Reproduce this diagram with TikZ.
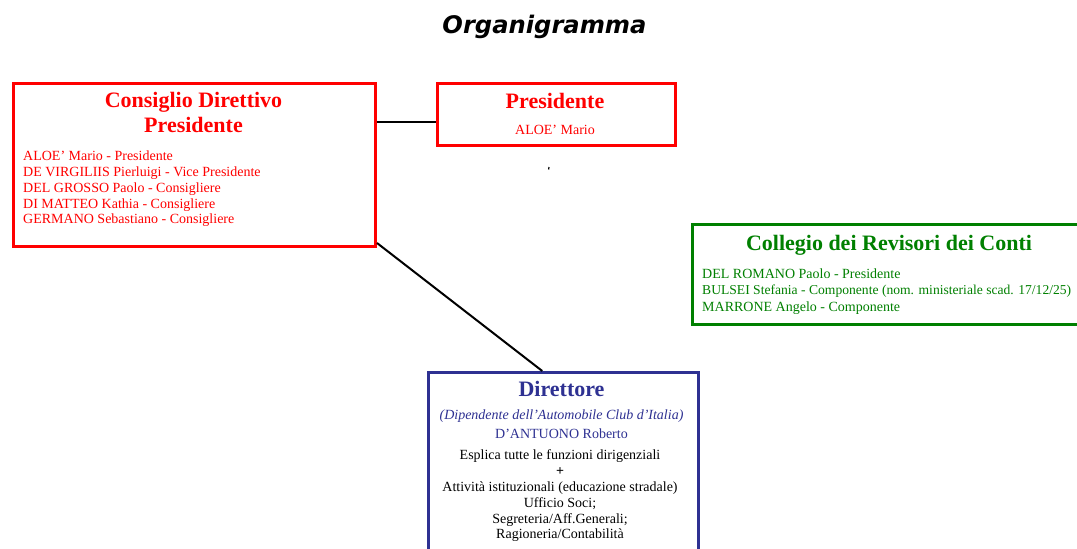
\documentclass[tikz,border=0pt]{standalone}
\usepackage{fontspec}
\setmainfont{Liberation Serif}
\newfontfamily\titlefont{DejaVu Sans}
\definecolor{boxred}{RGB}{255,0,0}
\definecolor{boxgreen}{RGB}{0,128,0}
\definecolor{boxblue}{RGB}{46,49,146}
\begin{document}
\begin{tikzpicture}[x=1pt,y=-1pt,
  box/.style={draw, line width=3pt, inner sep=0pt, anchor=north west},
  head/.style={font=\fontsize{22}{24}\selectfont\bfseries, anchor=base, inner sep=0pt},
  member/.style={font=\fontsize{14}{16}\selectfont, anchor=base west, inner sep=0pt},
  ctext/.style={font=\fontsize{14}{16}\selectfont, anchor=base, inner sep=0pt},
  cline/.style={draw=black, line width=2pt},
]
\clip (0,0) rectangle (1077,549);
\fill[white] (0,0) rectangle (1077,549);

% title
\node[font=\titlefont\fontsize{24.2}{28}\selectfont\bfseries\itshape, anchor=base, inner sep=0pt] (title) at (544.5,33.5) {Organigramma};

% boxes
\node[box, draw=boxred, minimum width=362pt, minimum height=163pt] (cons) at (12,82) {};
\node[box, draw=boxred, minimum width=238pt, minimum height=62pt] (pres) at (436,82) {};
\node[box, draw=boxgreen, minimum width=396pt, minimum height=100pt] (coll) at (691,223) {};
\node[box, draw=boxblue, line width=2.5pt, minimum width=270pt, minimum height=200pt] (dir) at (427,371) {};

% connectors
\draw[cline] (cons.east |- 0,122) -- (pres.west |- 0,122);
\draw[cline] ([yshift=5pt]cons.south east) -- ([xshift=-21pt]dir.north);
\draw[line width=1.2pt] (549,167) -- (548.6,169.5);

% Consiglio Direttivo
\node[head, text=boxred] (consh1) at (193.5,107.3) {Consiglio Direttivo};
\node[head, text=boxred] (consh2) at (193.5,132.7) {Presidente};
\node[member, text=boxred] (c1) at (23,160.7) {ALOE’ Mario - Presidente};
\node[member, text=boxred] (c2) at (23,176.5) {DE VIRGILIIS Pierluigi - Vice Presidente};
\node[member, text=boxred] (c3) at (23,192.3) {DEL GROSSO Paolo - Consigliere};
\node[member, text=boxred] (c4) at (23,208.1) {DI MATTEO Kathia - Consigliere};
\node[member, text=boxred] (c5) at (23,223.9) {GERMANO Sebastiano - Consigliere};

% Presidente
\node[head, text=boxred] (presh) at (555,108.3) {Presidente};
\node[ctext, text=boxred] (pres1) at (555,134.3) {ALOE’ Mario};

% Collegio
\node[head, text=boxgreen] (collh) at (889,250) {Collegio dei Revisori dei Conti};
\node[member, text=boxgreen] (g1) at (702,278.3) {DEL ROMANO Paolo - Presidente};
\node[member, text=boxgreen, font=\fontsize{13.6}{16}\selectfont] (g2) at (702,294.7) {BULSEI Stefania - Componente (nom. ministeriale scad. 17/12/25)};
\node[member, text=boxgreen] (g3) at (702,311) {MARRONE Angelo - Componente};

% Direttore
\node[head, text=boxblue] (dirh) at (561.5,396.7) {Direttore};
\node[ctext, text=boxblue, font=\fontsize{14}{16}\selectfont\itshape] (d1) at (561.5,419.5) {(Dipendente dell’Automobile Club d’Italia)};
\node[ctext, text=boxblue] (d2) at (561.5,438.3) {D’ANTUONO Roberto};
\node[ctext] (d3) at (560,459.3) {Esplica tutte le funzioni dirigenziali};
\node[ctext, font=\fontsize{14}{16}\selectfont\bfseries] (d4) at (560,475.5) {+};
\node[ctext] (d5) at (560,491.5) {Attività istituzionali (educazione stradale)};
\node[ctext] (d6) at (560,507) {Ufficio Soci;};
\node[ctext] (d7) at (560,523) {Segreteria/Aff.Generali;};
\node[ctext] (d8) at (560,538.5) {Ragioneria/Contabilità};
\end{tikzpicture}
\end{document}
